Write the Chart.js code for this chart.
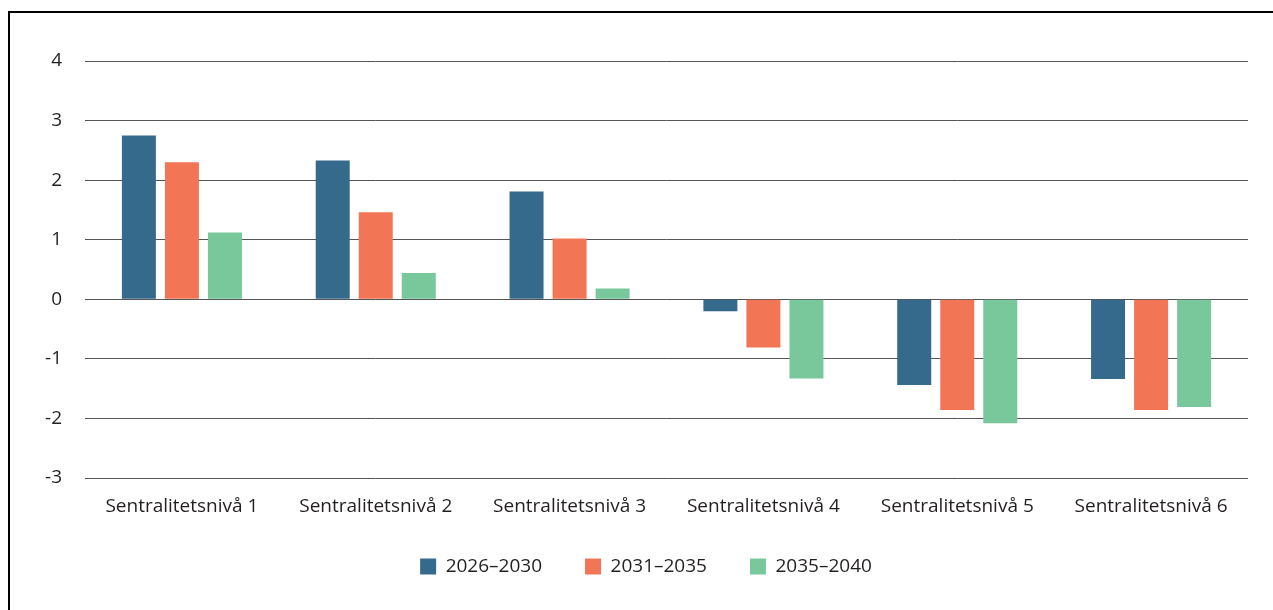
<!DOCTYPE html>
<html>
<head>
  <meta charset="UTF-8">
  <title>Sentralitetsnivå</title>
  <script src="https://cdn.jsdelivr.net/npm/chart.js"></script>
  <style>
    html, body { margin: 0; padding: 0; background: #fff; }
    #frame {
      position: absolute; left: 8px; top: 11px;
      width: 1265px; height: 599px;
      border-top: 2px solid #000; border-left: 2px solid #000;
    }
    #wrap { position: absolute; left: 0; top: 0; width: 1263px; height: 597px; }
  </style>
</head>
<body>
  <div id="frame">
    <div id="wrap"><canvas id="chart"></canvas></div>
  </div>
  <script>
    const categories = [
      'Sentralitetsnivå 1', 'Sentralitetsnivå 2', 'Sentralitetsnivå 3',
      'Sentralitetsnivå 4', 'Sentralitetsnivå 5', 'Sentralitetsnivå 6'
    ];
    const seriesNames = ['2026–2030', '2031–2035', '2035–2040'];
    const values2026 = [2.75, 2.33, 1.81, -0.20, -1.44, -1.34];
    const values2031 = [2.30, 1.46, 1.02, -0.81, -1.86, -1.86];
    const values2035 = [1.12, 0.44, 0.18, -1.33, -2.08, -1.81];
    const colors = ['#366a8c', '#f27656', '#79c89b'];
    const yMin = -3, yMax = 4;

    const font = { family: "'Open Sans', sans-serif", size: 19 };
    const textColor = '#231f20';

    const ctx = document.getElementById('chart').getContext('2d');
    new Chart(ctx, {
      type: 'bar',
      data: {
        labels: categories,
        datasets: [values2026, values2031, values2035].map((v, i) => ({
          label: seriesNames[i],
          data: v,
          backgroundColor: colors[i],
          borderWidth: 0,
          categoryPercentage: 0.666,
          barPercentage: 0.79
        }))
      },
      options: {
        responsive: true,
        maintainAspectRatio: false,
        animation: false,
        layout: { padding: { top: 48, right: 25, left: 34, bottom: 24 } },
        plugins: {
          tooltip: { enabled: false },
          legend: {
            position: 'bottom',
            labels: {
              font: font, color: textColor,
              boxWidth: 16, boxHeight: 16, padding: 43
            }
          }
        },
        scales: {
          x: {
            afterFit: (s) => { s.height = 36; },
            grid: { display: false, drawTicks: false },
            border: { display: false },
            ticks: { font: font, color: textColor, padding: 17, maxRotation: 0 }
          },
          y: {
            min: yMin, max: yMax,
            afterFit: (s) => { s.width = 41; },
            grid: { color: '#555', lineWidth: 1, drawTicks: false },
            border: { display: false },
            ticks: { stepSize: 1, font: font, color: textColor, padding: 23 }
          }
        }
      }
    });
  </script>
</body>
</html>
